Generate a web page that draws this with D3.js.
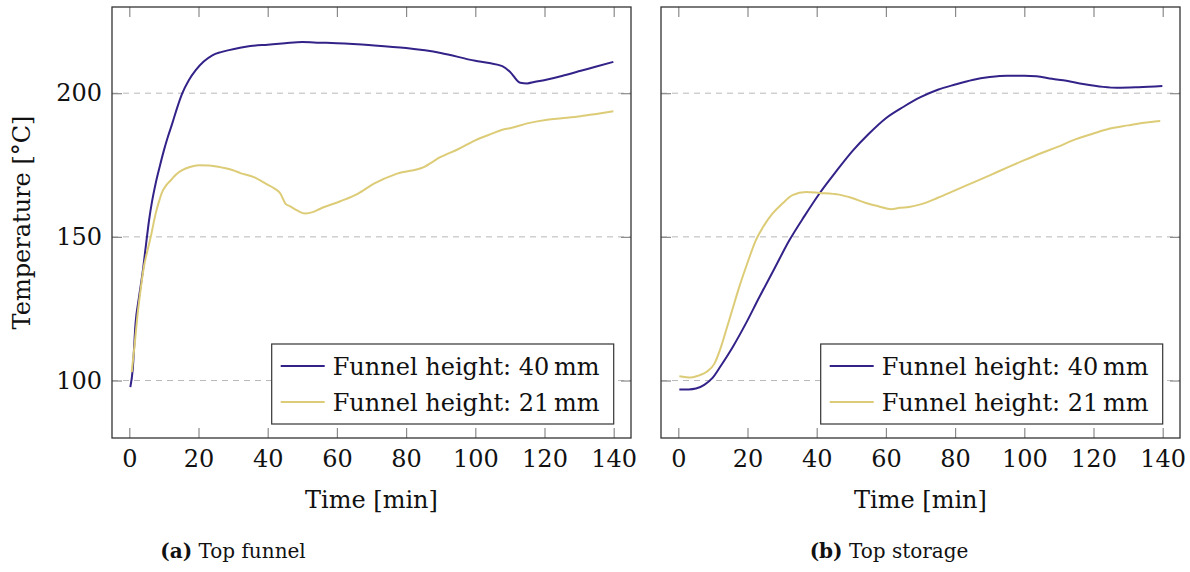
<!DOCTYPE html>
<html>
<head>
<meta charset="utf-8">
<script src="https://cdn.jsdelivr.net/npm/d3@7"></script>
<style>
  html, body { margin: 0; padding: 0; background: #fff; }
  svg { display: block; }
  text { font-family: "DejaVu Serif", serif; fill: #111; }
</style>
</head>
<body>
<svg id="chart" width="1190" height="572"></svg>
<script>
// ---------- data ----------
const xTicks = [0, 20, 40, 60, 80, 100, 120, 140];
const yTicks = [100, 150, 200];
const seriesNames = ["Funnel height: 40\u2009mm", "Funnel height: 21\u2009mm"];
const seriesColors = ["#332288", "#DDCC77"];
const panelCaptions = [["(a)", " Top funnel"], ["(b)", " Top storage"]];
const xLabel = "Time [min]";
const yLabel = "Temperature [\u00B0C]";

// (a) Top funnel, 40 mm
const funnel40 = [[0.3,97.7],[1.0,104],[1.8,119.8],[2.8,129],[3.8,137.2],[4.8,147],[5.7,155.7],[6.6,162.5],[7.6,168.5],[8.8,174.5],[10,180.1],[11.2,185],[12.4,189.4],[13.8,194.8],[15.3,199.9],[17.2,204.5],[19.2,208],[21.5,211],[24,213.2],[26.5,214.3],[28.8,215],[32,215.8],[35,216.4],[40,216.9],[45,217.4],[50,217.8],[55,217.6],[60,217.4],[70,216.7],[80,215.7],[90,214],[100,211.3],[104,210.5],[107.8,209.4],[110,207.5],[113,203.6],[115,203.4],[117,203.9],[120.8,204.8],[125,206],[130.5,207.8],[135,209.3],[139.9,210.9]];
// (a) Top funnel, 21 mm
const funnel21 = [[0.7,102.9],[1.5,112],[2.3,122],[3.2,131],[4.2,139.5],[5.2,145],[6.2,150],[7.6,158],[8.5,162],[9.5,165.6],[10.7,168],[12,169.7],[13.6,171.8],[15.3,173.2],[17.5,174.3],[20.1,174.9],[23,174.8],[26.9,174.1],[30,173.2],[32.1,172.2],[36,170.8],[39.8,168.3],[42,166.8],[43.7,165],[44.5,163],[45.1,161.6],[46.5,160.6],[48.5,159.2],[50.9,158.1],[53,158.6],[55.2,159.8],[61,162.4],[66,165],[70.7,168.5],[77.4,172],[85.1,174.3],[90,177.8],[95,180.5],[100,183.6],[105,186],[107.8,187.3],[110,187.8],[115,189.5],[120.8,190.8],[125,191.3],[130.5,192],[135,192.8],[139.9,193.7]];
// (b) Top storage, 40 mm
const storage40 = [[0.3,96.9],[3,96.9],[5.1,97.2],[7.5,98.5],[9.9,100.9],[12.5,105.5],[15.7,111.6],[19.5,119.8],[23.4,129],[27.8,139],[32.1,148.8],[36.5,157.3],[40.8,165.1],[45.5,172.6],[50.5,180.1],[55,185.8],[60,191.3],[65,195.2],[70,198.6],[75,201.2],[80,203],[85,204.6],[90,205.6],[95,206.1],[100,206.1],[103.5,205.9],[108,205],[112.2,204.3],[117,203.2],[122.8,202.2],[126.8,201.9],[133,202.1],[139.9,202.5]];
// (b) Top storage, 21 mm
const storage21 = [[0.3,101.5],[3.7,101.05],[6,101.8],[8,102.9],[10.4,105.8],[12,110.5],[13.8,117.4],[15.7,125],[17.6,132.5],[20,141],[22.4,148.8],[24.8,154],[27.2,158.1],[30,161.5],[33,164.5],[36.9,165.6],[40.8,165.3],[46.5,164.7],[50,163.6],[54.2,161.8],[58,160.6],[61.5,159.6],[64,160.1],[66.7,160.4],[70,161.3],[75,163.6],[80,166.2],[85,168.8],[90,171.4],[95,174.1],[100,176.7],[105,179.2],[110,181.5],[114,183.6],[120,186],[124.8,187.7],[130,188.8],[134,189.6],[138.4,190.2],[139.3,190.3]];

const panelsData = [[funnel40, funnel21], [storage40, storage21]];

// ---------- layout ----------
const svg = d3.select("#chart");
const panels = [
  { left: 112, right: 631, captionX: 233 },
  { left: 661, right: 1180, captionX: 889 }
];
const plotTop = 7, plotBottom = 438;
const xDomain = [-5, 145], yDomain = [80, 230];
const FS = 24;

panels.forEach((p, i) => {
  const x = d3.scaleLinear().domain(xDomain).range([p.left, p.right]);
  const y = d3.scaleLinear().domain(yDomain).range([plotBottom, plotTop]);
  const g = svg.append("g");

  // grid
  g.selectAll("line.grid").data(yTicks).join("line")
    .attr("x1", p.left).attr("x2", p.right)
    .attr("y1", d => y(d)).attr("y2", d => y(d))
    .attr("stroke", "#b8b8b8").attr("stroke-width", 1)
    .attr("stroke-dasharray", "6,5");

  // axes (inward ticks)
  const axB = g.append("g").attr("transform", `translate(0,${plotBottom})`)
    .call(d3.axisBottom(x).tickValues(xTicks).tickSize(-10).tickPadding(12));
  const axT = g.append("g").attr("transform", `translate(0,${plotTop})`)
    .call(d3.axisTop(x).tickValues(xTicks).tickSize(-10).tickFormat(""));
  const axL = g.append("g").attr("transform", `translate(${p.left},0)`)
    .call(d3.axisLeft(y).tickValues(yTicks).tickSize(-10).tickPadding(10)
      .tickFormat(i === 0 ? d3.format("d") : ""));
  const axR = g.append("g").attr("transform", `translate(${p.right},0)`)
    .call(d3.axisRight(y).tickValues(yTicks).tickSize(-10).tickFormat(""));
  [axB, axT, axL, axR].forEach(a => {
    a.select(".domain").remove();
    a.selectAll(".tick line").attr("stroke", "#8a8a8a").attr("stroke-width", 1.2);
    a.selectAll(".tick text").attr("font-family", "DejaVu Serif, serif")
      .attr("font-size", FS).attr("fill", "#111");
  });

  // lines
  const line = d3.line().x(d => x(d[0])).y(d => y(d[1])).curve(d3.curveMonotoneX);
  panelsData[i].forEach((s, k) => {
    g.append("path").datum(s)
      .attr("fill", "none").attr("stroke", seriesColors[k])
      .attr("stroke-width", 2).attr("stroke-linejoin", "round")
      .attr("d", line);
  });

  // frame
  g.append("rect").attr("x", p.left).attr("y", plotTop)
    .attr("width", p.right - p.left).attr("height", plotBottom - plotTop)
    .attr("fill", "none").attr("stroke", "#333").attr("stroke-width", 1.3);

  // legend
  const lx = x(140) - 342, ly = 344;
  const lg = g.append("g");
  lg.append("rect").attr("x", lx).attr("y", ly).attr("width", 342).attr("height", 80)
    .attr("fill", "#fff").attr("stroke", "#333").attr("stroke-width", 1.2);
  seriesNames.forEach((n, k) => {
    const ry = ly + 22 + k * 36;
    lg.append("line").attr("x1", lx + 9).attr("x2", lx + 53)
      .attr("y1", ry).attr("y2", ry)
      .attr("stroke", seriesColors[k]).attr("stroke-width", 2);
    lg.append("text").attr("x", lx + 61).attr("y", ry + 9)
      .attr("font-size", FS).text(n);
  });

  // x label
  g.append("text").attr("x", (x(0) + x(140)) / 2).attr("y", 508)
    .attr("text-anchor", "middle").attr("font-size", FS).text(xLabel);

  // caption
  const cap = g.append("text").attr("x", p.captionX).attr("y", 558)
    .attr("text-anchor", "middle").attr("font-size", 20)
    .attr("font-family", "Liberation Serif, serif");
  cap.append("tspan").attr("font-weight", "bold").text(panelCaptions[i][0]);
  cap.append("tspan").text(panelCaptions[i][1]);
});

// y label
svg.append("text")
  .attr("transform", `translate(30,${(plotTop + plotBottom) / 2}) rotate(-90)`)
  .attr("text-anchor", "middle").attr("font-size", FS).text(yLabel);
</script>
</body>
</html>
